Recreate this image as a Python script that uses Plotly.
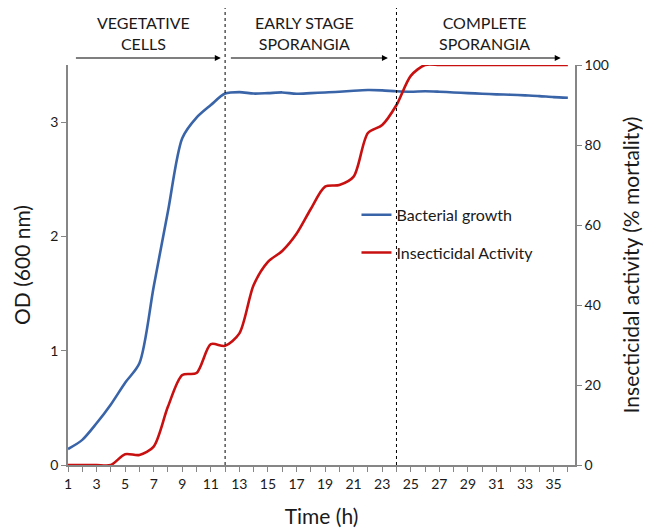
import plotly.graph_objects as go

hours = list(range(1, 37))
od_600 = [0.14, 0.22, 0.365, 0.53, 0.72, 0.89, 1.56, 2.22, 2.86, 3.04, 3.15, 3.25,
          3.263, 3.25, 3.254, 3.26, 3.248, 3.254, 3.26, 3.266, 3.275, 3.281, 3.278, 3.27,
          3.266, 3.27, 3.266, 3.26, 3.254, 3.249, 3.243, 3.24, 3.234, 3.228, 3.219, 3.214]
mortality = [0, 0, 0, 0, 2.7, 2.5, 4.6, 14.6, 22.5, 23.0, 30.2, 29.8,
             32.9, 45.0, 50.8, 53.5, 57.8, 64.0, 69.6, 70.0, 72.1, 83.0, 85.0, 90.0,
             97.3, 100, 100, 100, 100, 100, 100, 100, 100, 100, 100, 100]
tick_text = [str(h) if h % 2 == 1 else "" for h in hours]
phase_labels = ["VEGETATIVE<br>CELLS", "EARLY STAGE<br>SPORANGIA", "COMPLETE<br>SPORANGIA"]
phase_label_x = [6.3, 17.55, 30.15]
phase_bounds = [12, 24]
phase_arrows = [(1.45, 11.7), (12.3, 23.4), (24.1, 35.5)]

FONT = "Lato"
AX = "#868686"
TXT = "#1a1a1a"

fig = go.Figure()
fig.add_trace(go.Scatter(x=hours, y=od_600, mode="lines", name="Bacterial growth",
                         legendgroup="a",
                         line=dict(color="#3A64A8", width=2.6, shape="spline", smoothing=0.8)))
fig.add_trace(go.Scatter(x=hours, y=mortality, mode="lines", name="Insecticidal Activity",
                         yaxis="y2", legendgroup="b",
                         line=dict(color="#C81010", width=2.6, shape="spline", smoothing=0.8)))

for b in phase_bounds:
    fig.add_shape(type="line", xref="x", yref="paper", x0=b, x1=b, y0=0, y1=1.145,
                  line=dict(color="black", width=1, dash="dot"))

for (a0, a1) in phase_arrows:
    fig.add_annotation(x=a1, y=1.0175, xref="x", yref="paper", ax=a0, ay=0,
                       axref="x", ayref="pixel", text="", showarrow=True,
                       arrowhead=2, arrowsize=1, arrowwidth=1.2, arrowcolor="black")

for lab, lx in zip(phase_labels, phase_label_x):
    fig.add_annotation(x=lx, y=1.08, xref="x", yref="paper", text=lab, showarrow=False,
                       font=dict(family=FONT, size=16, color=TXT), align="center",
                       yanchor="middle")

axis_common = dict(showline=True, linecolor=AX, linewidth=1.5, ticks="outside",
                   ticklen=5, tickcolor=AX, showgrid=False, zeroline=False,
                   automargin=False,
                   tickfont=dict(family=FONT, size=14, color=TXT))
title_font = dict(family=FONT, size=21, color=TXT)

fig.update_layout(
    width=643, height=523,
    margin=dict(l=60, r=76, t=57, b=66, autoexpand=False),
    paper_bgcolor="white", plot_bgcolor="white",
    xaxis=dict(range=[1, 36.5], tickmode="array", tickvals=hours, ticktext=tick_text,
               title=dict(text="Time (h)", font=title_font, standoff=19),
               **axis_common),
    yaxis=dict(range=[0, 3.5], tickmode="array", tickvals=[0, 1, 2, 3],
               title=dict(text="OD (600 nm)", font=title_font, standoff=14),
               **axis_common),
    yaxis2=dict(range=[0, 100], tickmode="array", tickvals=[0, 20, 40, 60, 80, 100],
                overlaying="y", side="right",
                title=dict(text="Insecticidal activity (% mortality)", font=title_font,
                           standoff=16),
                **axis_common),
    legend=dict(x=0.569, y=0.668, xanchor="left", yanchor="top", bgcolor="rgba(0,0,0,0)",
                font=dict(family=FONT, size=16, color=TXT), itemwidth=30,
                tracegroupgap=14, traceorder="grouped"),
    showlegend=True,
)

fig.write_html("out.html")
